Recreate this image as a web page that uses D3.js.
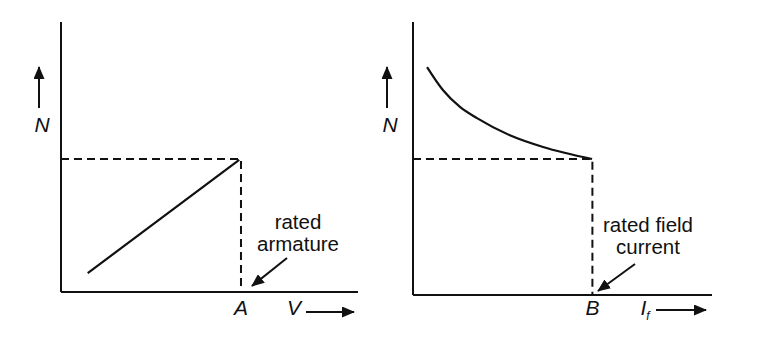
<!DOCTYPE html>
<html>
<head>
<meta charset="utf-8">
<script src="https://cdn.jsdelivr.net/npm/d3@7"></script>
<style>
  body { margin: 0; background: #fff; }
  text { font-family: "Liberation Sans", Arial, sans-serif; fill: #111; }
</style>
</head>
<body>
<script>
// speed characteristics of a dc shunt motor: armature voltage control (left), field control (right)

// left panel: N vs V, both axes in % of the drawn axis length
const armatureLine = [{ x: 9, y: 7 }, { x: 60, y: 48.9 }];
const armatureRated = { x: 60.6, y: 49.3 };

// right panel: N vs field current
const fieldCurve = [
    { x: 4.7, y: 83.5 },
    { x: 10.0, y: 75.1 },
    { x: 15.7, y: 68.9 },
    { x: 21.4, y: 64.8 },
    { x: 32.4, y: 58.5 },
    { x: 43.5, y: 54.2 },
    { x: 59.9, y: 49.8 }
];
const fieldRated = { x: 60, y: 49.8 };

const leftNotes = ["rated", "armature"];
const rightNotes = ["rated field", "current"];

const W = 760, H = 346;
const svg = d3.select("body").append("svg")
    .attr("width", W)
    .attr("height", H);

const defs = svg.append("defs");
defs.append("marker")
    .attr("id", "head")
    .attr("viewBox", "0 0 13 11")
    .attr("refX", 12)
    .attr("refY", 5.5)
    .attr("markerWidth", 13)
    .attr("markerHeight", 11)
    .attr("markerUnits", "userSpaceOnUse")
    .attr("orient", "auto")
    .append("path")
    .attr("d", "M0,0 L13,5.5 L0,11 Z")
    .attr("fill", "#111");

function arrow(g, x1, y1, x2, y2) {
    g.append("line")
        .attr("x1", x1).attr("y1", y1)
        .attr("x2", x2).attr("y2", y2)
        .attr("stroke", "#111")
        .attr("stroke-width", 2)
        .attr("marker-end", "url(#head)");
}

function panel(opt) {
    const g = svg.append("g");
    const x = d3.scaleLinear().domain([0, 100]).range([opt.x0, opt.x1]);
    const y = d3.scaleLinear().domain([0, 100]).range([opt.y0, opt.y1]);

    // axes (plain lines, no ticks)
    g.append("line")
        .attr("x1", x(0)).attr("y1", y(0))
        .attr("x2", x(0)).attr("y2", y(100))
        .attr("stroke", "#111").attr("stroke-width", 2);
    g.append("line")
        .attr("x1", x(0)).attr("y1", y(0))
        .attr("x2", x(100)).attr("y2", y(0))
        .attr("stroke", "#111").attr("stroke-width", 2);

    // dashed guides to the rated point
    const r = opt.rated;
    g.append("path")
        .attr("d", `M${x(0)},${y(r.y)} H${x(r.x)} V${y(0)}`)
        .attr("fill", "none")
        .attr("stroke", "#111")
        .attr("stroke-width", 2)
        .attr("stroke-dasharray", "8,5");

    const line = d3.line()
        .x(d => x(d.x))
        .y(d => y(d.y))
        .curve(d3.curveMonotoneX);
    g.append("path")
        .datum(opt.data)
        .attr("d", line)
        .attr("fill", "none")
        .attr("stroke", "#111")
        .attr("stroke-width", 2.2);

    // N arrow
    arrow(g, opt.nx, 108, opt.nx, 67);
    g.append("text")
        .attr("x", opt.nx + 3).attr("y", 132)
        .attr("text-anchor", "middle")
        .style("font-size", "21px")
        .style("font-style", "italic")
        .text("N");

    // point label at the rated value
    g.append("text")
        .attr("x", x(r.x)).attr("y", 315)
        .attr("text-anchor", "middle")
        .style("font-size", "21px")
        .style("font-style", "italic")
        .text(opt.point);

    // variable label + arrow
    const vl = g.append("text")
        .attr("x", opt.varX).attr("y", 315)
        .attr("text-anchor", "middle")
        .style("font-size", "21px")
        .style("font-style", "italic")
        .text(opt.variable);
    if (opt.sub) {
        vl.append("tspan")
            .attr("dy", 5)
            .style("font-size", "12px")
            .text(opt.sub);
    }
    arrow(g, opt.arrX0, opt.arrY, opt.arrX1, opt.arrY);

    // note
    opt.notes.forEach((t, i) => {
        g.append("text")
            .attr("x", opt.noteX).attr("y", opt.noteY + i * 22)
            .attr("text-anchor", "middle")
            .style("font-size", "20.5px")
            .text(t);
    });
    arrow(g, opt.pointer[0], opt.pointer[1], opt.pointer[2], opt.pointer[3]);
}

panel({
    x0: 61, x1: 358, y0: 292, y1: 22,
    data: armatureLine, rated: armatureRated,
    nx: 39, point: "A", variable: "V", varX: 294,
    arrX0: 306, arrX1: 354, arrY: 312,
    notes: leftNotes, noteX: 298, noteY: 229,
    pointer: [287, 258, 252, 286]
});

panel({
    x0: 413, x1: 712, y0: 295, y1: 22,
    data: fieldCurve, rated: fieldRated,
    nx: 387, point: "B", variable: "I", sub: "f", varX: 645,
    arrX0: 656, arrX1: 706, arrY: 310,
    notes: rightNotes, noteX: 648, noteY: 232,
    pointer: [635, 264, 598, 291]
});
</script>
</body>
</html>
